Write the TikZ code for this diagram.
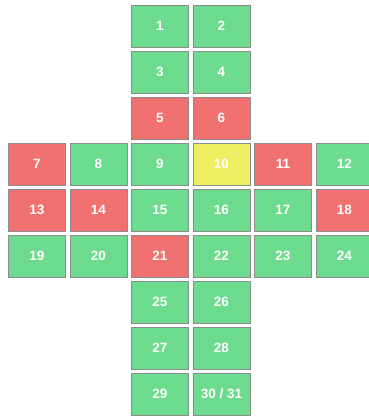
\documentclass[tikz,border=0pt]{standalone}
\usepackage{fontspec}
\setmainfont{Liberation Sans}
\definecolor{cgreen}{RGB}{108,219,142}
\definecolor{cred}{RGB}{241,112,112}
\definecolor{cyellow}{RGB}{240,238,98}
\definecolor{cborder}{RGB}{140,140,140}
\tikzset{
  cell/.style={draw=cborder, line width=0.8pt, minimum width=57pt, minimum height=41.5pt,
    inner sep=0pt, anchor=north west, text=white, font=\bfseries\fontsize{13.5}{15}\selectfont},
  gcell/.style={cell, fill=cgreen},
  rcell/.style={cell, fill=cred},
  ycell/.style={cell, fill=cyellow},
}
\begin{document}
\begin{tikzpicture}[x=1pt,y=-1pt]
\useasboundingbox (0,0) rectangle (369,418);
\clip (0,0) rectangle (369,418);
\def\cA{8}\def\cB{69.5}\def\cC{131}\def\cD{192.5}\def\cE{254}\def\cF{315.5}
\node[gcell] (n1) at (\cC,5) {1};
\node[gcell] (n2) at (\cD,5) {2};
\node[gcell] (n3) at (\cC,51) {3};
\node[gcell] (n4) at (\cD,51) {4};
\node[rcell] (n5) at (\cC,97) {5};
\node[rcell] (n6) at (\cD,97) {6};
\node[rcell] (n7) at (\cA,143) {7};
\node[gcell] (n8) at (\cB,143) {8};
\node[gcell] (n9) at (\cC,143) {9};
\node[ycell] (n10) at (\cD,143) {10};
\node[rcell] (n11) at (\cE,143) {11};
\node[gcell] (n12) at (\cF,143) {12};
\node[rcell] (n13) at (\cA,189) {13};
\node[rcell] (n14) at (\cB,189) {14};
\node[gcell] (n15) at (\cC,189) {15};
\node[gcell] (n16) at (\cD,189) {16};
\node[gcell] (n17) at (\cE,189) {17};
\node[rcell] (n18) at (\cF,189) {18};
\node[gcell] (n19) at (\cA,235) {19};
\node[gcell] (n20) at (\cB,235) {20};
\node[rcell] (n21) at (\cC,235) {21};
\node[gcell] (n22) at (\cD,235) {22};
\node[gcell] (n23) at (\cE,235) {23};
\node[gcell] (n24) at (\cF,235) {24};
\node[gcell] (n25) at (\cC,281) {25};
\node[gcell] (n26) at (\cD,281) {26};
\node[gcell] (n27) at (\cC,327) {27};
\node[gcell] (n28) at (\cD,327) {28};
\node[gcell] (n29) at (\cC,373) {29};
\node[gcell] (n30) at (\cD,373) {30 / 31};
\end{tikzpicture}
\end{document}
